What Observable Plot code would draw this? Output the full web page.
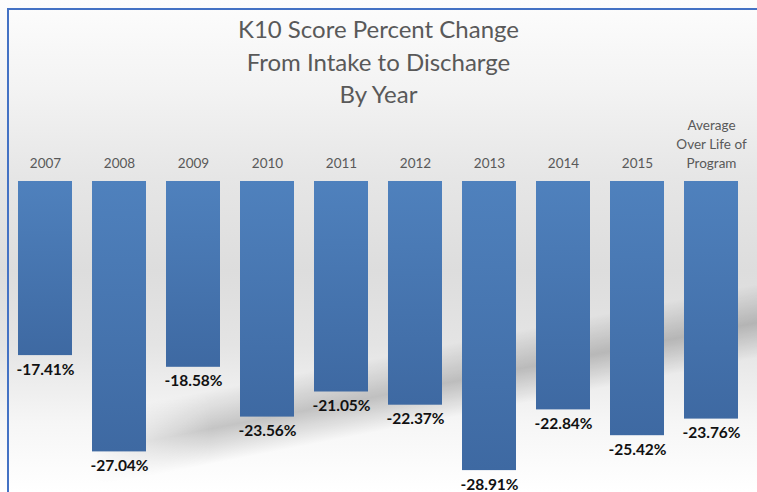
<!DOCTYPE html>
<html><head><meta charset="utf-8">
<script src="https://cdn.jsdelivr.net/npm/d3@7"></script>
<script src="https://cdn.jsdelivr.net/npm/@observablehq/plot@0.6"></script>
<style>
body{margin:0;background:#fff;}
#wrap{position:relative;width:757px;height:492px;overflow:hidden;
 background:linear-gradient(to bottom,#fdfdfd 0%,#f3f3f3 18%,#e6e6e6 36%,#dddddd 55%,#e4e4e4 70%,#f6f6f6 86%,#ffffff 100%);}
#shadow{position:absolute;left:0;top:0;width:757px;height:492px;
 background:linear-gradient(169deg, rgba(0,0,0,0) 67.5%, rgba(0,0,0,0.2) 73.5%, rgba(0,0,0,0) 79%);
 -webkit-mask-image:linear-gradient(to right, transparent 12%, black 28%);
 mask-image:linear-gradient(to right, transparent 12%, black 28%);}
#btop{position:absolute;left:7px;top:8px;right:0;height:2px;background:#4472c4;}
#bleft{position:absolute;left:7px;top:8px;bottom:0;width:2px;background:#4472c4;}
#title{position:absolute;top:13px;left:0;width:757px;text-align:center;font-family:Lato,sans-serif;font-size:24px;color:#595959;line-height:32.5px;}
#chart{position:absolute;left:0;top:110px;}
</style>
</head><body>
<div id="wrap">
 <div id="shadow"></div>
 <div id="btop"></div><div id="bleft"></div>
 <div id="title">K10 Score Percent Change<br>From Intake to Discharge<br>By Year</div>
 <div id="chart"></div>
</div>
<script>
const categories = ["2007","2008","2009","2010","2011","2012","2013","2014","2015","Average\nOver Life of\nProgram"];
const values = [-17.41,-27.04,-18.58,-23.56,-21.05,-22.37,-28.91,-22.84,-25.42,-23.76];
const valueLabels = ["-17.41%","-27.04%","-18.58%","-23.56%","-21.05%","-22.37%","-28.91%","-22.84%","-25.42%","-23.76%"];
const data = categories.map((c,i)=>({category:c,value:values[i],label:valueLabels[i]}));

const svg = Plot.plot({
  width:757, height:382,
  marginLeft:7, marginRight:8, marginTop:71, marginBottom:11,
  x:{domain:categories, paddingInner:0.272, paddingOuter:0.136, axis:null},
  y:{domain:[-30,0], axis:null},
  style:{background:"transparent", overflow:"visible", fontFamily:"Lato, sans-serif"},
  marks:[
    Plot.barY(data,{x:"category", y:"value", fill:"url(#barGrad)"}),
    Plot.text(data,{x:"category", y:()=>0, text:"category", lineAnchor:"bottom", dy:-14, fontSize:13.5, lineHeight:1.4, fill:"#595959"}),
    Plot.text(data,{x:"category", y:"value", text:"label", lineAnchor:"top", dy:8, fontSize:15.5, fontWeight:"bold", fill:"#111111"})
  ]
});
d3.select(svg).insert("defs",":first-child").html(
 '<linearGradient id="barGrad" x1="0" y1="0" x2="0" y2="1" gradientUnits="objectBoundingBox">'+
 '<stop offset="0" stop-color="#4f81bd"/><stop offset="1" stop-color="#3e69a2"/></linearGradient>');
document.getElementById("chart").appendChild(svg);
</script>
</body></html>
